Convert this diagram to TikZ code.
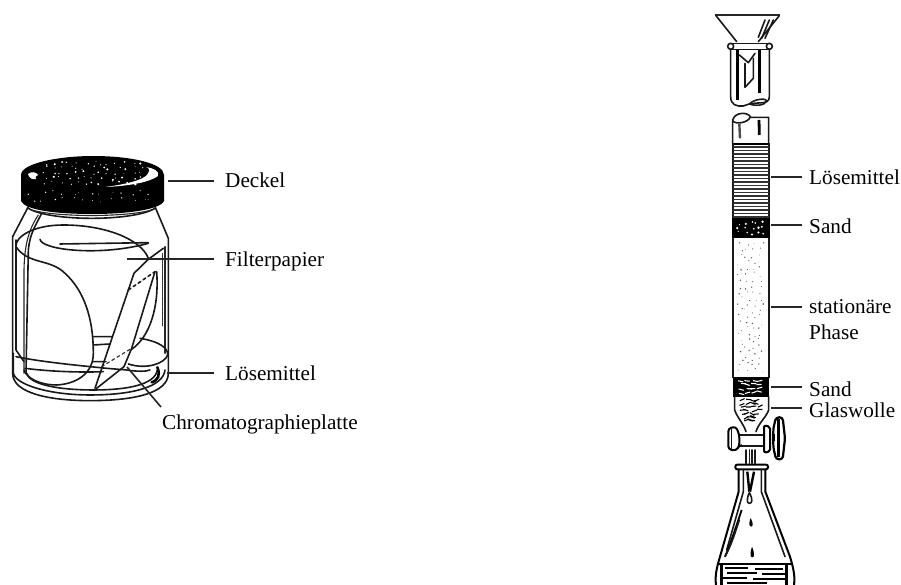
\documentclass[tikz,border=0pt]{standalone}
\usepackage{fontspec}
\setmainfont{Liberation Serif}
\begin{document}
\begin{tikzpicture}[x=1pt,y=-1pt,
  lbl/.style={inner sep=0pt,anchor=west,text height=14pt,text depth=5pt,font=\fontsize{21.2}{24}\selectfont},
  leader/.style={line width=1.6pt,black!85},
  ink/.style={line width=1.6pt,black!90,line join=round,line cap=round},
  thin ink/.style={line width=1.1pt,black!85,line cap=round},
  heavy/.style={line width=2.6pt,black,line cap=round},
  zj/.style={shift={(0,140)},x=0.3333pt,y=-0.3333pt},
  zt/.style={shift={(690,0)},x=0.3333pt,y=-0.3333pt},
  zb/.style={shift={(690,360)},x=0.3333pt,y=-0.3333pt}]
\useasboundingbox (0,0) rectangle (901,585);
\fill[white] (0,0) rectangle (901,585);

% ---------- jar ----------
\begin{scope}[zj]
 % glass
 \draw[ink] (85,200) -- (38,290) -- (38,700) .. controls (38,760) and (150,782) .. (270,782) .. controls (400,782) and (505,760) .. (505,700) -- (505,295) -- (465,200);
 \draw[ink] (85,205) .. controls (150,245) and (400,245) .. (465,205);
 \draw[thin ink] (95,210) .. controls (170,232) and (380,232) .. (455,210);
 \draw[ink] (48,300) -- (48,630) -- (72,665);
 \draw[ink] (125,220) .. controls (105,260) and (90,280) .. (85,330) -- (78,700);
 \draw[thin ink] (115,225) .. controls (85,270) and (72,320) .. (72,400) -- (72,700);
 \draw[thin ink] (495,320) -- (495,640);
 \draw[thin ink,densely dotted] (488,340) -- (488,560);
 % filter paper
 \draw[ink] (48,320) .. controls (45,290) and (100,255) .. (190,255) .. controls (320,255) and (425,300) .. (445,355);
 \draw[ink] (48,320) .. controls (85,375) and (150,355) .. (195,400) .. controls (250,450) and (280,530) .. (280,640) .. controls (280,700) and (230,732) .. (170,735) .. controls (120,735) and (80,715) .. (72,690);
 \draw[ink] (120,298) .. controls (125,330) and (300,350) .. (445,310);
 \draw[ink] (180,312) -- (445,308);
 \draw[ink] (470,395) .. controls (478,500) and (450,590) .. (395,628);
 % plate
 \draw[ink] (490,325) -- (445,358) -- (402,400) -- (285,745);
 \draw[ink] (465,395) -- (395,625) -- (372,680) -- (290,745);
 \draw[ink,dashed] (385,450) -- (465,395);
 \draw[thin ink,dashed] (305,680) -- (395,625);
 % solvent and floor
 \draw[ink] (40,640) -- (40,700) .. controls (48,735) and (150,765) .. (270,765) .. controls (400,765) and (490,740) .. (495,690);
 \draw[ink] (48,650) .. controls (120,665) and (220,675) .. (320,685) -- (380,690) .. controls (410,695) and (440,695) .. (450,690);
 \draw[ink] (75,685) .. controls (150,695) and (250,698) .. (310,695);
 \draw[ink] (80,700) .. controls (90,735) and (180,750) .. (280,750) .. controls (380,750) and (465,735) .. (472,690);
 \draw[ink] (280,590) -- (335,590) (280,615) -- (330,612) (280,665) -- (318,665);
 \draw[ink] (420,595) .. controls (480,605) and (505,625) .. (503,645) .. controls (495,670) and (440,690) .. (385,672);
 \draw[heavy] (472,682) .. controls (482,705) and (475,720) .. (455,727);
\end{scope}

% lid
\fill[black] (21,175) .. controls (21,163) and (60,156) .. (93,156) .. controls (130,156) and (164,163) .. (164,175) -- (164,201) .. controls (160,210) and (125,214) .. (93,214) .. controls (55,214) and (25,210) .. (21,201) -- cycle;
\fill[white] (147,175) .. controls (150,171) and (150,168) .. (146,167) .. controls (153,168) and (160,171) .. (158,176) .. controls (150,182) and (130,186) .. (105,187) .. controls (128,184) and (142,180) .. (147,175) -- cycle;
\fill[white] (28,174) .. controls (32,171) and (36,172) .. (38,175) .. controls (36,177) and (34,177) .. (36,179) .. controls (32,180) and (29,178) .. (28,174) -- cycle;
\pgfmathsetseed{11}
\foreach \gx in {42,50,...,138}{
 \foreach \gy in {161,166,...,181}{
  \pgfmathsetmacro\px{\gx+rnd*7}
  \pgfmathsetmacro\py{\gy+rnd*4}
  \pgfmathsetmacro\pr{0.4+rnd*0.8}
  \fill[white] (\px,\py) circle[radius=\pr];
 }
}
\foreach \gx in {28,38,...,150}{
 \foreach \gy in {190,197}{
  \pgfmathsetmacro\px{\gx+rnd*8}
  \pgfmathsetmacro\py{\gy+rnd*6}
  \pgfmathsetmacro\pr{0.3+rnd*0.5}
  \fill[white] (\px,\py) circle[radius=\pr];
 }
}

% ---------- column upper part ----------
\begin{scope}[zt]
 % funnel
 \draw[line width=1.8pt,black!85] (75,45) -- (270,45);
 \draw[ink] (78,47) -- (140,125) (268,47) -- (205,125);
 \draw[ink] (225,60) -- (205,112) (238,60) -- (215,115) (250,60) -- (225,115);
 % adapter
 \draw[ink,fill=white] (122,130) rectangle (240,148);
 \draw[ink,fill=white] (122,139) circle[radius=9] (238,139) circle[radius=9];
 \draw[ink] (122,148) -- (122,290) .. controls (122,315) and (140,320) .. (160,318) .. controls (200,300) and (238,320) .. (238,290) -- (238,148);
 \draw[line width=3pt] (142,150) -- (142,300);
 \draw[line width=3.2pt] (208,150) -- (208,280);
 \draw[ink] (148,165) -- (175,188) -- (195,160);
 \draw[ink] (165,190) -- (165,262) (190,175) -- (190,235) -- (165,262);
 \draw[ink] (178,312) .. controls (195,295) and (230,295) .. (230,302) .. controls (225,318) and (195,318) .. (178,312);
 % column head
 \draw[ink] (128,430) -- (128,360) .. controls (135,335) and (175,335) .. (182,352) -- (236,352) -- (236,430);
 \draw[ink] (128,362) .. controls (135,375) and (175,368) .. (180,352);
 \draw[line width=2.4pt,black!70] (148,372) -- (150,415);
 \draw[line width=2.8pt] (207,360) -- (208,405);
 \draw[line width=1.8pt] (128,433) -- (236,433);
\end{scope}

% ---------- column body ----------
\draw[line width=2pt,black!90] (733,143) -- (733,378);
\draw[line width=2pt,black!90] (769,143) -- (769,378);
\foreach \yy in {147,150.5,...,218}{ \draw[line width=1.4pt,black!80] (733,\yy) -- (769,\yy); }
\fill[black] (732,218) rectangle (770,238);
\pgfmathsetseed{5}
\foreach \gx in {737,743,...,761}{
 \foreach \gy in {221,226,231}{
  \pgfmathsetmacro\px{\gx+rnd*5}
  \pgfmathsetmacro\py{\gy+rnd*4}
  \pgfmathsetmacro\pr{0.6+rnd*0.8}
  \fill[white] (\px,\py) circle[radius=\pr];
 }
}
\foreach \gx in {737,744,...,760}{
 \foreach \gy in {242,248,...,370}{
  \pgfmathsetmacro\px{\gx+rnd*6}
  \pgfmathsetmacro\py{\gy+rnd*5}
  \pgfmathsetmacro\pr{0.35+rnd*0.5}
  \fill[black!65] (\px,\py) circle[radius=\pr];
 }
}

% ---------- column lower part ----------
\begin{scope}[zb]
 \fill[black] (128,50) rectangle (238,110);
 \pgfmathsetseed{9}
 \foreach \gx in {148,166,...,210}{
  \foreach \gy in {58,70,82,94}{
   \pgfmathsetmacro\px{\gx+rnd*14}
   \pgfmathsetmacro\py{\gy+rnd*8}
   \pgfmathsetmacro\pa{rnd*40-20}
   \fill[white,rotate around={\pa:(\px,\py)}] (\px-8,\py-1.6) rectangle (\px+8,\py+1.6);
  }
 }
 % glass wool bulb
 \draw[ink] (134,110) -- (134,150) .. controls (140,170) and (160,190) .. (168,215);
 \draw[ink] (236,110) -- (236,150) .. controls (230,170) and (205,190) .. (198,215);
 \pgfmathsetseed{21}
 \foreach \gy/\gl/\gr in {118/146/214,128/146/214,138/148/212,148/150/210,158/156/204,168/162/198,178/170/192}{
  \foreach \gt in {0,1,2,3}{
   \pgfmathsetmacro\px{\gl+(\gr-\gl)*(\gt+rnd)/4}
   \pgfmathsetmacro\py{\gy+rnd*6}
   \pgfmathsetmacro\pa{rnd*70-35}
   \draw[line width=1.1pt,rotate around={\pa:(\px,\py)}] (\px-8,\py) .. controls (\px,\py-6) and (\px,\py+6) .. (\px+8,\py);
  }
 }
 % stem
 \draw[ink] (168,270) -- (168,310) (195,270) -- (195,310);
 \draw[ink] (178,270) -- (178,310) (186,270) -- (186,310);
 % stopcock
 \draw[ink,fill=white] (148,225) rectangle (230,258);
 \draw[line width=2pt,fill=white,rounded corners=3pt] (115,205) -- (138,200) -- (148,225) -- (148,258) -- (138,272) -- (115,268) -- cycle;
 \draw[ink] (125,205) -- (125,268);
 \draw[line width=2pt,fill=white,rounded corners=2pt] (222,196) -- (240,200) -- (240,275) -- (222,278) -- cycle;
 \draw[line width=2.2pt,fill=white,rounded corners=3pt] (250,205) -- (258,172) -- (278,172) -- (285,235) -- (278,298) -- (258,298) -- (250,262) -- cycle;
 \fill[black] (245,222) rectangle (256,242);
 \draw[line width=2.4pt] (266,178) -- (266,290);
 % flask
 \draw[line width=2pt,fill=white,rounded corners=2pt] (136,314) rectangle (234,328);
 \draw[line width=2pt] (146,328) -- (146,395) -- (90,590) .. controls (78,630) and (75,650) .. (78,675);
 \draw[line width=2pt] (226,328) -- (226,395) -- (300,590) .. controls (312,630) and (315,650) .. (312,675);
 \draw[ink] (160,328) -- (160,395) -- (110,570);
 \draw[ink] (214,328) -- (214,395) -- (285,590);
 \draw[line width=1.8pt] (155,450) .. controls (135,510) and (118,560) .. (105,590);
 \draw[ink] (148,480) .. controls (135,520) and (122,560) .. (105,590);
 \draw[line width=2.4pt] (172,335) -- (178,395) (192,335) -- (180,395);
 \draw[ink] (178,398) .. controls (168,420) and (172,430) .. (178,430) .. controls (186,430) and (190,420) .. (178,398);
 \fill[black] (182,474) .. controls (175,495) and (178,500) .. (183,500) .. controls (190,500) and (190,490) .. (182,474);
 \fill[black] (186,560) .. controls (178,585) and (182,592) .. (187,592) .. controls (194,592) and (194,580) .. (186,560);
 % liquid
 \draw[line width=2pt] (84,612) -- (305,612);
 \foreach \a/\b/\c in {105/175/625,195/280/628,110/200/640,215/295/643,100/170/655,190/290/658,110/230/670}{
   \draw[line width=1.8pt] (\a,\c) -- (\b,\c);
 }
 \draw[line width=3.4pt] (95,615) -- (95,675) (290,615) -- (290,675);
\end{scope}

% ---------- labels ----------
\node[lbl] (deckel) at (225,183) {Deckel};
\node[lbl] (filter) at (225,262) {Filterpapier};
\node[lbl] (loesL) at (225,376) {Lösemittel};
\node[lbl] (chroma) at (162,425) {Chromatographieplatte};
\node[lbl] (loesR) at (809,180) {Lösemittel};
\node[lbl] (sandA) at (809,229) {Sand};
\node[lbl] (stat) at (809,309) {stationäre};
\node[lbl] (phase) at (809,335) {Phase};
\node[lbl] (sandB) at (809,392) {Sand};
\node[lbl] (wolle) at (809,413) {Glaswolle};

\coordinate (aDeckel) at (168,181);
\coordinate (aFilter) at (127,259);
\coordinate (aLoesL) at (167,373);
\coordinate (aChroma) at (127,367);
\coordinate (aChromaEnd) at (161,407);
\coordinate (aLoesR) at (771,177);
\coordinate (aSandA) at (771,225);
\coordinate (aStat) at (771,307);
\coordinate (aSandB) at (771,387);
\coordinate (aWolle) at (771,408);

\draw[leader,shorten >=11pt] (aDeckel) -- (aDeckel -| deckel.west);
\draw[leader,shorten >=11pt] (aFilter) -- (aFilter -| filter.west);
\draw[leader,shorten >=11pt] (aLoesL) -- (aLoesL -| loesL.west);
\draw[leader] (aChroma) -- (aChromaEnd);
\draw[leader,shorten >=7pt] (aLoesR) -- (aLoesR -| loesR.west);
\draw[leader,shorten >=7pt] (aSandA) -- (aSandA -| sandA.west);
\draw[leader,shorten >=7pt] (aStat) -- (aStat -| stat.west);
\draw[leader,shorten >=7pt] (aSandB) -- (aSandB -| sandB.west);
\draw[leader,shorten >=7pt] (aWolle) -- (aWolle -| wolle.west);
\end{tikzpicture}
\end{document}
